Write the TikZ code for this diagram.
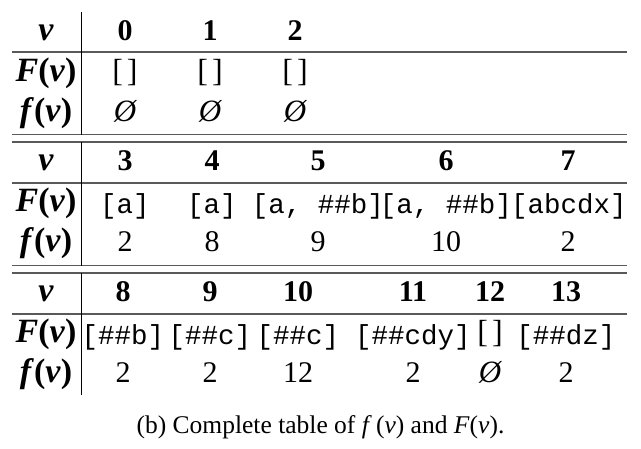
\documentclass[tikz,border=0pt]{standalone}
\usepackage{fontspec}
\setmainfont{Liberation Serif}
\setmonofont{Liberation Mono}
\begin{document}
\begin{tikzpicture}[x=1pt,y=-1pt,
  every node/.style={inner sep=0pt,anchor=base},
  hdr/.style={font=\fontsize{30}{32}\selectfont\bfseries},
  lbl/.style={font=\fontsize{34}{36}\selectfont\bfseries\itshape},
  mono/.style={font=\fontsize{27.5}{30}\selectfont\ttfamily},
  brk/.style={font=\fontsize{32}{34}\selectfont},
  num/.style={font=\fontsize{30}{32}\selectfont},
  emp/.style={font=\fontsize{31}{33}\selectfont\itshape},
  rule/.style={line width=1.3pt,black!65},
  vrule/.style={line width=0.9pt,black},
  captxt/.style={font=\fontsize{25.5}{28}\selectfont}]
\useasboundingbox (0,0) rectangle (641,448);
% rules
\coordinate (l1) at (12,52);   \coordinate (r1) at (627,52);
\coordinate (l2) at (12,134.5);\coordinate (r2) at (627,134.5);
\coordinate (l3) at (12,142);  \coordinate (r3) at (627,142);
\coordinate (l4) at (12,183);  \coordinate (r4) at (627,183);
\coordinate (l5) at (12,265.5);\coordinate (r5) at (627,265.5);
\coordinate (l6) at (12,273);  \coordinate (r6) at (627,273);
\coordinate (l7) at (12,314);  \coordinate (r7) at (627,314);
\foreach \i in {1,...,7}{\draw[rule] (l\i) -- (r\i);}
\coordinate (v1a) at (81,12);  \coordinate (v1b) at (81,134.5);
\coordinate (v2a) at (81,142); \coordinate (v2b) at (81,265.5);
\coordinate (v3a) at (81,273); \coordinate (v3b) at (81,395);
\foreach \i in {1,2,3}{\draw[vrule] (v\i a) -- (v\i b);}
% block 1
\node[lbl] (a0) at (46,40.5) {v};
\node[lbl] (a1) at (46,81) {F\textup{(}v\textup{)}};
\node[lbl] (a2) at (46,121.5) {f\textup{(}v\textup{)}};
\node[hdr] (h0) at (125,40.5) {0};
\node[hdr] (h1) at (210,40.5) {1};
\node[hdr] (h2) at (295,40.5) {2};
\node[brk] (F0) at (125,81) {[\kern4pt]};
\node[brk] (F1) at (210,81) {[\kern4pt]};
\node[brk] (F2) at (295,81) {[\kern4pt]};
\node[emp] (f0) at (125,121.5) {Ø};
\node[emp] (f1) at (210,121.5) {Ø};
\node[emp] (f2) at (295,121.5) {Ø};
% block 2
\node[lbl] (b0) at (46,170.5) {v};
\node[lbl] (b1) at (46,211) {F\textup{(}v\textup{)}};
\node[lbl] (b2) at (46,251.5) {f\textup{(}v\textup{)}};
\node[hdr] (h3) at (125,170.5) {3};
\node[hdr] (h4) at (212,170.5) {4};
\node[hdr] (h5) at (318,170.5) {5};
\node[hdr] (h6) at (446,170.5) {6};
\node[hdr] (h7) at (568,170.5) {7};
\node[mono] (F3) at (125,213) {[a]};
\node[mono] (F4) at (212,213) {[a]};
\node[mono] (F5) at (318,213) {[a, \#\#b]};
\node[mono] (F6) at (446,213) {[a, \#\#b]};
\node[mono] (F7) at (569,213) {[abcdx]};
\node[num] (f3) at (125,251.5) {2};
\node[num] (f4) at (212,251.5) {8};
\node[num] (f5) at (318,251.5) {9};
\node[num] (f6) at (446,251.5) {10};
\node[num] (f7) at (568,251.5) {2};
% block 3
\node[lbl] (c0) at (46,301.5) {v};
\node[lbl] (c1) at (46,342) {F\textup{(}v\textup{)}};
\node[lbl] (c2) at (46,382.5) {f\textup{(}v\textup{)}};
\node[hdr] (h8) at (123,301.5) {8};
\node[hdr] (h9) at (210,301.5) {9};
\node[hdr] (h10) at (298,301.5) {10};
\node[hdr] (h11) at (413,301.5) {11};
\node[hdr] (h12) at (490,301.5) {12};
\node[hdr] (h13) at (566,301.5) {13};
\node[mono] (F8) at (123,344) {[\#\#b]};
\node[mono] (F9) at (210,344) {[\#\#c]};
\node[mono] (F10) at (298,344) {[\#\#c]};
\node[mono] (F11) at (413,344) {[\#\#cdy]};
\node[brk] (F12) at (490,342) {[\kern4pt]};
\node[mono] (F13) at (566,344) {[\#\#dz]};
\node[num] (f8) at (123,382.5) {2};
\node[num] (f9) at (210,382.5) {2};
\node[num] (f10) at (298,382.5) {12};
\node[num] (f11) at (413,382.5) {2};
\node[emp] (f12) at (490,382.5) {Ø};
\node[num] (f13) at (566,382.5) {2};
% caption
\node[captxt] (capt) at (320.5,433) {(b) Complete table of \textit{f}\,(\textit{v}) and \textit{F}(\textit{v}).};
\end{tikzpicture}
\end{document}
